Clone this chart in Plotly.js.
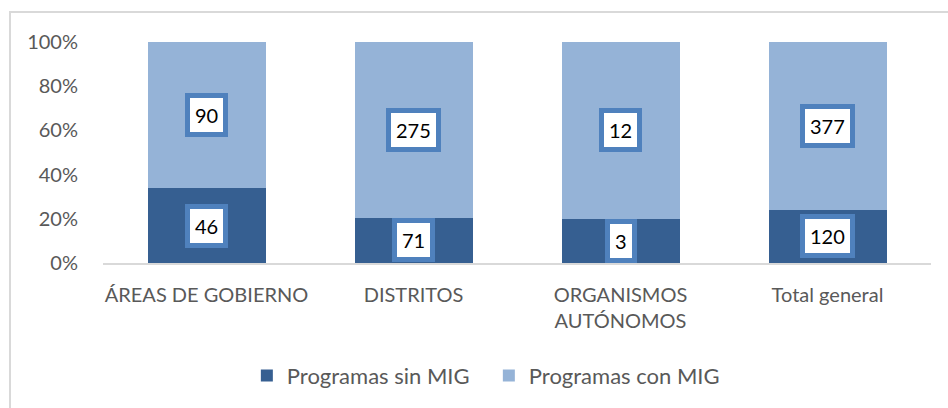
<!DOCTYPE html>
<html>
<head>
<meta charset="utf-8">
<script src="https://cdn.plot.ly/plotly-3.0.1.min.js"></script>
<style>
  html, body { margin: 0; padding: 0; background: #fff; }
  #wrap { position: relative; width: 948px; height: 408px; }
  #chart { position: absolute; left: 0; top: 0; width: 948px; height: 408px; }
  #frame { position: absolute; left: 9px; top: 11px; width: 960px; height: 420px;
           border-left: 2px solid #d9d9d9; border-top: 2px solid #d9d9d9; pointer-events: none; }
</style>
</head>
<body>
<div id="wrap">
  <div id="chart"></div>
  <div id="frame"></div>
</div>
<script>
const categories = ['ÁREAS DE GOBIERNO', 'DISTRITOS', 'ORGANISMOS<br>AUTÓNOMOS', 'Total general'];
const sinMIG = [46, 71, 3, 120];
const conMIG = [90, 275, 12, 377];
const seriesNames = ['Programas sin MIG', 'Programas con MIG'];
const yTicks = [0, 20, 40, 60, 80, 100];

const darkColor = '#365F91';
const lightColor = '#95B3D7';
const boxColor = '#4F81BD';
const textGray = '#595959';
const fontFam = 'Lato, "Open Sans", sans-serif';

const traces = [
  { type: 'bar', name: seriesNames[0], x: categories, y: sinMIG, marker: { color: darkColor }, hoverinfo: 'none' },
  { type: 'bar', name: seriesNames[1], x: categories, y: conMIG, marker: { color: lightColor }, hoverinfo: 'none' }
];

const annotations = [];
categories.forEach((c, i) => {
  const total = sinMIG[i] + conMIG[i];
  const pSin = sinMIG[i] / total * 100;
  const pCon = conMIG[i] / total * 100;
  [[sinMIG[i], pSin / 2], [conMIG[i], pSin + pCon / 2]].forEach(([v, y]) => {
    annotations.push({
      x: c, y: y, xref: 'x', yref: 'y', text: String(v), showarrow: false,
      font: { family: fontFam, size: 20, color: '#000' },
      bgcolor: '#ffffff', bordercolor: boxColor, borderwidth: 5, borderpad: 5,
      xanchor: 'center', yanchor: 'middle'
    });
  });
});

const layout = {
  width: 948, height: 408,
  margin: { l: 103, r: 17, t: 42, b: 142 },
  paper_bgcolor: '#ffffff', plot_bgcolor: '#ffffff',
  barmode: 'stack', barnorm: 'percent', bargap: 0.43,
  font: { family: fontFam, color: textGray, size: 20 },
  xaxis: {
    type: 'category', showgrid: false, zeroline: false,
    showline: true, linecolor: '#d9d9d9', linewidth: 2,
    ticks: 'outside', ticklen: 13, tickcolor: 'rgba(0,0,0,0)',
    tickfont: { family: fontFam, size: 20, color: textGray }
  },
  yaxis: {
    range: [0, 100], tickvals: yTicks, ticktext: yTicks.map(v => v + '%'),
    showgrid: false, zeroline: false, showline: false,
    ticks: 'outside', ticklen: 20, tickcolor: 'rgba(0,0,0,0)',
    tickfont: { family: fontFam, size: 20, color: textGray }
  },
  showlegend: true,
  legend: {
    orientation: 'h', x: 0.466, xanchor: 'center', y: -0.51, yanchor: 'middle',
    font: { family: fontFam, size: 22, color: textGray }, traceorder: 'normal',
    itemwidth: 30, entrywidth: 197
  },
  annotations: annotations
};

Plotly.newPlot('chart', traces, layout, { staticPlot: true, displayModeBar: false });
</script>
</body>
</html>
